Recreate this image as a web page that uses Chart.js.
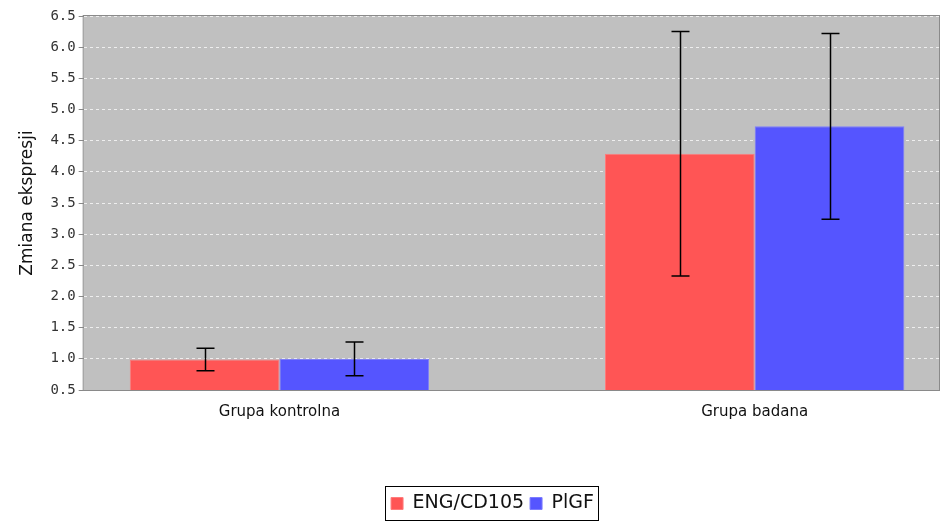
<!DOCTYPE html>
<html>
<head>
<meta charset="utf-8">
<script src="https://cdn.jsdelivr.net/npm/chart.js@4"></script>
<style>
  body { margin: 0; background: #fff; }
  #wrap { width: 941px; height: 523px; }
</style>
</head>
<body>
<div id="wrap"><canvas id="grafico" width="941" height="523"></canvas></div>
<script>
// ===== DADOS =====
const grupos = ['Grupa kontrolna', 'Grupa badana'];
const serieNomes = ['ENG/CD105', 'PlGF'];
const engValores = [0.99, 4.29];
const engErros = [0.18, 1.96];
const plgfValores = [1.0, 4.73];
const plgfErros = [0.27, 1.49];
const yTicks = [0.5, 1.0, 1.5, 2.0, 2.5, 3.0, 3.5, 4.0, 4.5, 5.0, 5.5, 6.0, 6.5];

const cores = ['#ff5555', '#5555ff'];

// ===== ERROR BARS =====
const errorBars = {
  id: 'errorBars',
  afterDatasetsDraw(chart) {
    const ctx = chart.ctx;
    const y = chart.scales.y;
    ctx.save();
    ctx.strokeStyle = '#000';
    ctx.lineWidth = 1.5;
    chart.data.datasets.forEach((ds, i) => {
      const meta = chart.getDatasetMeta(i);
      meta.data.forEach((bar, j) => {
        const v = ds.data[j].y;
        const e = ds.erros[j];
        const top = y.getPixelForValue(v + e);
        const bot = y.getPixelForValue(v - e);
        const x = Math.round(bar.x) + 0.5;
        ctx.beginPath();
        ctx.moveTo(x, top);
        ctx.lineTo(x, bot);
        ctx.moveTo(x - 9, top);
        ctx.lineTo(x + 9, top);
        ctx.moveTo(x - 9, bot);
        ctx.lineTo(x + 9, bot);
        ctx.stroke();
      });
    });
    ctx.restore();
  }
};

// ===== FUNDO + BORDA + LEGENDA =====
const fundo = {
  id: 'fundo',
  afterLayout(chart) {
    // legenda um pouco à direita, como no original
    const lg = chart.legend;
    const dx = 14;
    lg.left += dx;
    lg.right += dx;
    (lg.legendHitBoxes || []).forEach(b => { b.left += dx; });
  },
  beforeDraw(chart) {
    const a = chart.chartArea;
    const ctx = chart.ctx;
    ctx.save();
    ctx.fillStyle = '#c0c0c0';
    ctx.fillRect(a.left, a.top, a.right - a.left, a.bottom - a.top);
    ctx.restore();
  },
  afterDraw(chart) {
    const a = chart.chartArea;
    const ctx = chart.ctx;
    ctx.save();
    ctx.strokeStyle = '#8a8a8a';
    ctx.lineWidth = 1;
    ctx.strokeRect(a.left - 0.5, a.top - 0.5, a.right - a.left, a.bottom - a.top + 1);
    // caixa da legenda
    const boxes = chart.legend.legendHitBoxes;
    if (boxes && boxes.length) {
      const l = Math.min(...boxes.map(b => b.left)) - 6;
      const r = Math.max(...boxes.map(b => b.left + b.width)) + 4;
      const t = Math.min(...boxes.map(b => b.top)) - 8;
      const btm = Math.max(...boxes.map(b => b.top + b.height)) + 7;
      ctx.strokeStyle = '#000';
      ctx.strokeRect(Math.round(l) + 0.5, Math.round(t) + 0.5, Math.round(r - l), Math.round(btm - t));
    }
    ctx.restore();
  }
};

// ===== GRÁFICO =====
function montarGrafico() {
  const series = [engValores, plgfValores];
  const erros = [engErros, plgfErros];

  new Chart(document.getElementById('grafico'), {
    type: 'bar',
    data: {
      datasets: serieNomes.map((nome, i) => ({
        label: nome,
        data: series[i].map((v, j) => ({ x: j, y: v })),
        erros: erros[i],
        backgroundColor: cores[i],
        borderColor: i === 0 ? '#ff7c7c' : '#7c7cff',
        borderWidth: 1,
        categoryPercentage: 0.63,
        barPercentage: 1.0
      }))
    },
    options: {
      responsive: false,
      devicePixelRatio: 1,
      animation: false,
      layout: { padding: { top: 16, right: 1, left: 17 } },
      scales: {
        x: {
          type: 'linear',
          offset: false,
          min: -0.412,
          max: 1.39,
          afterBuildTicks(scale) {
            scale.ticks = grupos.map((g, i) => ({ value: i }));
          },
          afterFit(scale) {
            scale.height += 62;
          },
          ticks: {
            callback: v => grupos[v],
            color: '#111',
            font: { family: 'DejaVu Sans', size: 15 },
            padding: 5,
            maxRotation: 0,
            autoSkip: false
          },
          grid: { display: false, offset: false },
          border: { display: false }
        },
        y: {
          min: 0.5,
          max: 6.5,
          afterBuildTicks(scale) {
            scale.ticks = yTicks.map(v => ({ value: v }));
          },
          ticks: {
            callback: v => v.toFixed(1),
            color: '#333',
            font: { family: 'DejaVu Sans Mono', size: 14 },
            padding: 3
          },
          grid: {
            color: '#eeeeee',
            tickColor: '#888',
            tickLength: 5,
            lineWidth: 1
          },
          border: { display: false, dash: [3, 3] },
          title: {
            display: true,
            text: 'Zmiana ekspresji',
            color: '#111',
            font: { family: 'DejaVu Sans', size: 17 },
            padding: { top: 0, bottom: 10 }
          }
        }
      },
      plugins: {
        legend: {
          position: 'bottom',
          labels: {
            boxWidth: 12,
            boxHeight: 12,
            color: '#111',
            font: { family: 'DejaVu Sans', size: 19 },
            padding: 6
          }
        },
        tooltip: { enabled: false }
      }
    },
    plugins: [fundo, errorBars]
  });
}

// ===== INIT =====
document.addEventListener('DOMContentLoaded', () => {
  montarGrafico();
});
</script>
</body>
</html>
